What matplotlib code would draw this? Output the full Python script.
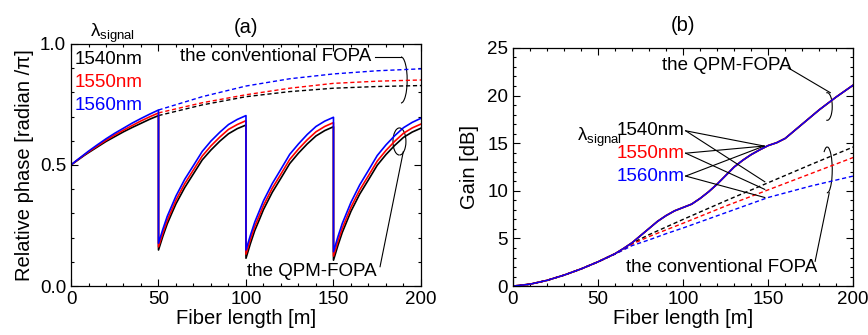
import matplotlib
matplotlib.use('Agg')
import numpy as np
from matplotlib import pyplot as plt
from matplotlib.patches import Arc

plt.rcParams['font.family'] = ['Liberation Sans', 'DejaVu Sans']
plt.rcParams['mathtext.default'] = 'regular'

# ---------- data, panel (a): relative phase [rad/pi] ----------
# QPM-FOPA: four 50 m sections, phase is reset at each joint
seg_offsets = [0, 2.5, 5, 7.5, 10, 15, 20, 25, 30, 35, 40, 45, 50]
seg_starts = [0, 50, 100, 150]

qpm_phase_1540 = [[0.500, 0.513, 0.526, 0.539, 0.551, 0.574, 0.597, 0.617, 0.637, 0.655, 0.672, 0.689, 0.704],
                  [0.149, 0.206, 0.257, 0.299, 0.340, 0.407, 0.464, 0.521, 0.562, 0.598, 0.629, 0.650, 0.665],
                  [0.115, 0.175, 0.229, 0.272, 0.316, 0.387, 0.446, 0.506, 0.549, 0.587, 0.620, 0.642, 0.658],
                  [0.107, 0.167, 0.221, 0.265, 0.309, 0.380, 0.439, 0.499, 0.543, 0.581, 0.614, 0.636, 0.652]]
qpm_phase_1550 = [[0.500, 0.514, 0.528, 0.541, 0.554, 0.578, 0.602, 0.624, 0.644, 0.663, 0.682, 0.699, 0.715],
                  [0.162, 0.219, 0.271, 0.313, 0.355, 0.423, 0.480, 0.537, 0.579, 0.615, 0.647, 0.667, 0.683],
                  [0.132, 0.192, 0.246, 0.289, 0.333, 0.404, 0.463, 0.523, 0.566, 0.604, 0.637, 0.659, 0.675],
                  [0.124, 0.184, 0.238, 0.282, 0.326, 0.397, 0.456, 0.516, 0.560, 0.598, 0.631, 0.653, 0.669]]
qpm_phase_1560 = [[0.500, 0.515, 0.529, 0.543, 0.557, 0.583, 0.608, 0.631, 0.652, 0.673, 0.692, 0.710, 0.727],
                  [0.177, 0.235, 0.288, 0.330, 0.372, 0.441, 0.498, 0.556, 0.599, 0.635, 0.667, 0.688, 0.704],
                  [0.149, 0.209, 0.264, 0.308, 0.352, 0.423, 0.483, 0.544, 0.587, 0.626, 0.659, 0.681, 0.697],
                  [0.142, 0.203, 0.258, 0.302, 0.346, 0.418, 0.478, 0.539, 0.583, 0.621, 0.654, 0.676, 0.693]]

# conventional FOPA (dashed, after 50 m)
conv_len_a = [50, 75, 100, 125, 150, 175, 200]
conv_phase_1540 = [0.704, 0.748, 0.782, 0.803, 0.817, 0.824, 0.828]
conv_phase_1550 = [0.715, 0.757, 0.790, 0.817, 0.837, 0.846, 0.851]
conv_phase_1560 = [0.727, 0.782, 0.826, 0.856, 0.876, 0.889, 0.897]

# ---------- data, panel (b): gain [dB] ----------
qpm_len = [0, 10, 20, 30, 40, 50, 60, 65, 70, 75, 80, 85, 90, 95, 100, 105, 110, 115, 120,
           125, 130, 135, 140, 145, 150, 155, 160, 170, 180, 190, 200]
qpm_gain = [0, 0.2, 0.6, 1.15, 1.8, 2.55, 3.4, 3.95, 4.55, 5.3, 6.05, 6.8, 7.4, 7.9, 8.25, 8.6, 9.2, 9.9, 10.7,
            11.6, 12.5, 13.2, 13.8, 14.3, 14.75, 15.05, 15.5, 17.0, 18.5, 19.85, 21.1]

conv_len_b = [0, 10, 20, 30, 40, 50, 60, 65, 70, 80, 90, 100, 125, 150, 175, 200]
conv_gain_1540 = [0, 0.2, 0.6, 1.15, 1.8, 2.55, 3.4, 3.9, 4.5, 5.4, 6.2, 7.0, 8.95, 10.85, 12.75, 14.6]
conv_gain_1550 = [0, 0.2, 0.6, 1.15, 1.8, 2.55, 3.4, 3.85, 4.4, 5.2, 5.9, 6.6, 8.4, 10.1, 11.8, 13.5]
conv_gain_1560 = [0, 0.2, 0.6, 1.15, 1.8, 2.55, 3.35, 3.8, 4.25, 4.85, 5.5, 6.1, 7.7, 9.3, 10.5, 11.55]

wavelengths = ['1540nm', '1550nm', '1560nm']
colors = ['black', 'red', 'blue']

FS = 13.5


def qpm_curve(sections):
    # glue the four sections together (vertical drop at each joint)
    xs, ys = [], []
    for start, vals in zip(seg_starts, sections):
        xs += [start + d for d in seg_offsets]
        ys += vals
    return xs, ys


def style_axes(ax):
    ax.tick_params(which='both', direction='in', top=True, right=True,
                   labelsize=FS, width=0.8)
    ax.tick_params(which='major', length=5)
    ax.tick_params(which='minor', length=2.5)
    for s in ax.spines.values():
        s.set_linewidth(0.9)


fig = plt.figure(figsize=(8.68, 3.35), dpi=100)
ax1 = fig.add_axes([0.0818, 0.146, 0.4032, 0.723])
ax2 = fig.add_axes([0.591, 0.146, 0.392, 0.711])

# ---------- (a) ----------
for conv, col in zip([conv_phase_1540, conv_phase_1550, conv_phase_1560], colors):
    ax1.plot(conv_len_a, conv, color=col, lw=1.0, ls=(0, (3, 2)))
for qpm, col in zip([qpm_phase_1540, qpm_phase_1550, qpm_phase_1560], colors):
    xs, ys = qpm_curve(qpm)
    ax1.plot(xs, ys, color=col, lw=1.2)

ax1.set_xlim(0, 200)
ax1.set_ylim(0, 1.0)
ax1.set_xticks([0, 50, 100, 150, 200])
ax1.set_xticks(np.arange(0, 201, 10), minor=True)
ax1.set_yticks([0, 0.5, 1.0])
ax1.set_yticks(np.arange(0, 1.01, 0.1), minor=True)
ax1.set_xlabel('Fiber length [m]', fontsize=14.5, labelpad=1)
ax1.set_ylabel('Relative phase [radian /π]', fontsize=14.5, labelpad=4)
ax1.set_title('(a)', fontsize=14.5, pad=8)
style_axes(ax1)

ax1.text(0.054, 1.045, 'λ$_{signal}$', transform=ax1.transAxes, fontsize=FS,
         va='center', ha='left')
for i, (w, col) in enumerate(zip(wavelengths, colors)):
    ax1.text(0.009, 0.934 - 0.095 * i, w, color=col, transform=ax1.transAxes,
             fontsize=FS, va='center', ha='left')

ax1.text(62.3, 0.946, 'the conventional FOPA', fontsize=FS, va='center', ha='left')
ax1.plot([174, 188.5], [0.946, 0.946], color='black', lw=0.8)
ax1.add_patch(Arc((188.6, 0.851), 7, 0.19, theta1=-115, theta2=95, color='black', lw=0.8))

ax1.text(100.4, 0.059, 'the QPM-FOPA', fontsize=FS, va='center', ha='left')
ax1.add_patch(Arc((187.7, 0.597), 7.4, 0.112, theta1=-100, theta2=200, color='black', lw=0.8))
ax1.plot([189.9, 176.6], [0.555, 0.08], color='black', lw=0.8)

# ---------- (b) ----------
for conv, col in zip([conv_gain_1540, conv_gain_1550, conv_gain_1560], colors):
    ax2.plot(conv_len_b, conv, color=col, lw=1.0, ls=(0, (3, 2)))
ax2.plot(qpm_len, qpm_gain, color='black', lw=1.2)
ax2.plot(qpm_len, qpm_gain, color='red', lw=1.2)
ax2.plot(qpm_len, qpm_gain, color='blue', lw=1.0)

ax2.set_xlim(0, 200)
ax2.set_ylim(0, 25)
ax2.set_xticks([0, 50, 100, 150, 200])
ax2.set_xticks(np.arange(0, 201, 10), minor=True)
ax2.set_yticks([0, 5, 10, 15, 20, 25])
ax2.set_yticks(np.arange(0, 26, 1), minor=True)
ax2.set_xlabel('Fiber length [m]', fontsize=14.5, labelpad=1)
ax2.set_ylabel('Gain [dB]', fontsize=14.5, labelpad=6)
ax2.set_title('(b)', fontsize=14.5, pad=12)
style_axes(ax2)

ax2.text(87.6, 23.2, 'the QPM-FOPA', fontsize=FS, va='center', ha='left')
ax2.plot([161.8, 186.5], [22.9, 20.3], color='black', lw=0.8)
ax2.add_patch(Arc((184.7, 18.85), 5.9, 2.9, theta1=-110, theta2=110, color='black', lw=0.8))

ax2.text(66.5, 2.0, 'the conventional FOPA', fontsize=FS, va='center', ha='left')
ax2.plot([177.6, 185.9], [2.6, 9.8], color='black', lw=0.8)
ax2.add_patch(Arc((184.7, 12.2), 5.9, 4.8, theta1=-95, theta2=135, color='black', lw=0.8))

ax2.text(37.6, 15.6, 'λ$_{signal}$', fontsize=FS, va='center', ha='left')
lab_y = [16.3, 13.95, 11.55]
conv_end = [10.95, 10.15, 9.3]
for w, col, ly, ce in zip(wavelengths, colors, lab_y, conv_end):
    ax2.text(61.2, ly, w, color=col, fontsize=FS, va='center', ha='left')
    ax2.plot([101.5, 147.6], [ly, 14.7], color='black', lw=0.8)
    ax2.plot([101.5, 148.0], [ly, ce], color='black', lw=0.8)

fig.savefig('out.png', dpi=100)
